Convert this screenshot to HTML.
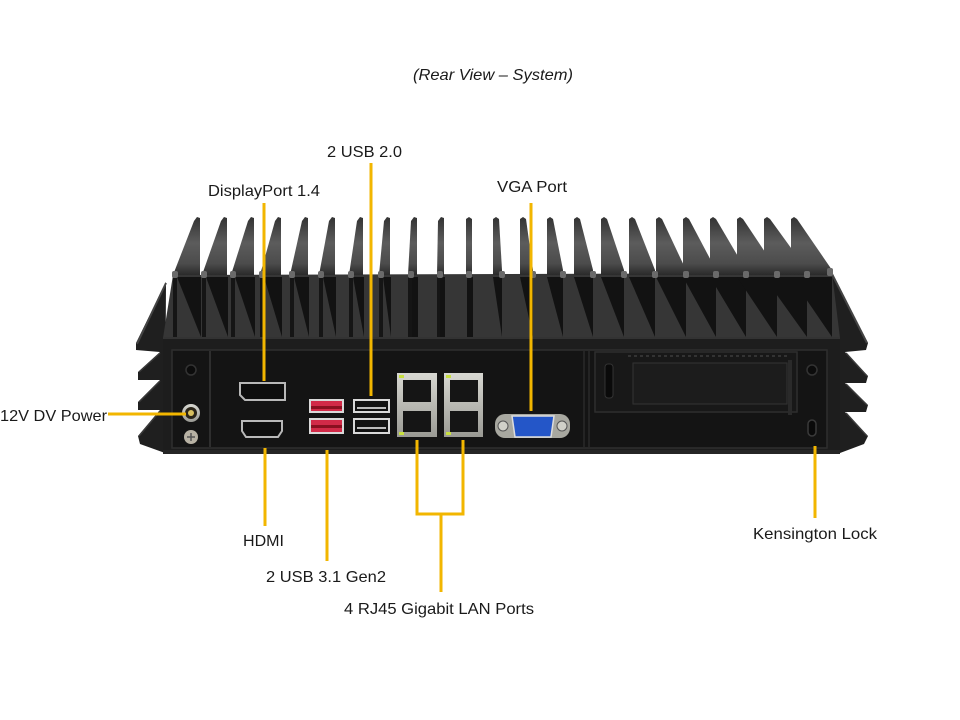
<!DOCTYPE html>
<html><head><meta charset="utf-8"><style>
html,body{margin:0;padding:0;background:#fff;}
svg{display:block;}
text{font-family:"Liberation Sans",Arial,sans-serif;font-size:16px;fill:#1a1a1a;}
</style></head><body>
<svg width="960" height="720" viewBox="0 0 960 720" xmlns="http://www.w3.org/2000/svg">
<defs>
<linearGradient id="fg" x1="0" y1="0" x2="0" y2="1">
<stop offset="0" stop-color="#333"/><stop offset="0.45" stop-color="#5c5c5c"/><stop offset="0.8" stop-color="#4c4c4c"/><stop offset="1" stop-color="#2a2a2a"/>
</linearGradient>
<linearGradient id="silver" x1="0" y1="0" x2="0" y2="1">
<stop offset="0" stop-color="#d8d8d2"/><stop offset="1" stop-color="#9a9a94"/>
</linearGradient>
</defs>
<rect width="960" height="720" fill="#fff"/>
<text x="413" y="80" font-style="italic" textLength="160" lengthAdjust="spacingAndGlyphs">(Rear View – System)</text>

<!-- side fins -->
<polygon points="166,282 136,343 136,350 160,352 138,372 138,380 160,380 138,402 138,410 160,410 138,436 140,444 165,453" fill="#1f1f1f"/>
<polyline points="166,283 137,344" stroke="#444" stroke-width="2" fill="none"/>
<polyline points="160,353 139,372" stroke="#3a3a3a" stroke-width="1.5" fill="none"/>
<polyline points="160,381 139,402" stroke="#3a3a3a" stroke-width="1.5" fill="none"/>
<polyline points="160,411 139,436" stroke="#3a3a3a" stroke-width="1.5" fill="none"/>
<polygon points="832,273 868,343 866,350 845,352 868,376 866,383 845,383 868,405 866,412 845,412 868,436 864,444 840,453" fill="#1f1f1f"/>
<polyline points="832,274 867,343" stroke="#444" stroke-width="2" fill="none"/>
<polyline points="846,353 867,376" stroke="#3a3a3a" stroke-width="1.5" fill="none"/>
<polyline points="846,384 867,405" stroke="#3a3a3a" stroke-width="1.5" fill="none"/>
<polyline points="846,413 867,436" stroke="#3a3a3a" stroke-width="1.5" fill="none"/>

<!-- lower fin band -->
<polygon points="173,275 832,273 840,338 163,338" fill="#363636"/>

<!-- left fins upper faces -->
<g fill="url(#fg)">
<polygon points="194,221 197,217 200,218 200,275 173,275"/>
<polygon points="221,221 224,217 227,218 227,275 202,275"/>
<polygon points="248,221 251,217 254,218 254,275 231,275"/>
<polygon points="275,221 278,217 281,218 281,275 260,275"/>
<polygon points="302,221 305,217 308,218 308,275 290,275"/>
<polygon points="329,221 332,217 335,218 335,275 319,275"/>
<polygon points="357,221 360,217 363,218 363,275 349,275"/>
<polygon points="384,221 387,217 390,218 390,275 379,275"/>
<polygon points="411,221 414,217 417,218 417,275 408,275"/>
<polygon points="438,221 441,217 444,218 444,275 437,275"/>
<!-- right fins -->
<polygon points="466,219 469,217 472,219 472,275 466,275"/>
<polygon points="493,219 496,217 499,219 502,270 502,275 493,275"/>
<polygon points="520,219 523,217 526,219 533,270 533,275 520,275"/>
<polygon points="547,219 550,217 553,219 563,270 563,275 547,275"/>
<polygon points="574,219 577,217 580,219 593,270 593,275 574,275"/>
<polygon points="601,219 604,217 607,219 624,270 624,275 601,275"/>
<polygon points="629,219 632,217 635,219 655,270 655,275 629,275"/>
<polygon points="656,219 659,217 662,219 686,270 686,275 656,275"/>
<polygon points="683,219 686,217 689,219 716,270 716,275 683,275"/>
<polygon points="710,219 713,217 716,219 746,270 746,275 710,275"/>
<polygon points="737,219 740,217 743,219 777,270 777,275 737,275"/>
<polygon points="764,219 767,217 770,219 807,270 807,275 764,275"/>
<polygon points="791,219 794,217 797,219 832,270 832,275 791,275"/>
</g>
<!-- lower dark triangles -->
<g fill="#121212">
<polygon points="177,277 201,277 201,337"/>
<polygon points="206,277 228,277 228,337"/>
<polygon points="235,277 255,277 255,337"/>
<polygon points="264,277 282,277 282,337"/>
<polygon points="294,277 309,277 309,337"/>
<polygon points="323,277 336,277 336,337"/>
<polygon points="353,277 364,277 364,337"/>
<polygon points="383,277 391,277 391,337"/>
<rect x="412" y="277" width="6" height="60"/>
<rect x="440" y="277" width="5" height="60"/>
<rect x="467" y="277" width="6" height="60"/>
<polygon points="493,277 502,277 502,337"/>
<polygon points="520,277 533,277 533,337"/>
<polygon points="547,277 563,277 563,337"/>
<polygon points="574,277 593,277 593,337"/>
<polygon points="601,277 624,277 624,337"/>
<polygon points="629,277 655,277 655,337"/>
<polygon points="656,277 686,277 686,337"/>
<polygon points="683,277 716,277 716,337"/>
<polygon points="710,277 746,277 746,337"/>
<polygon points="737,277 777,277 777,337"/>
<polygon points="764,277 807,277 807,337"/>
<polygon points="791,277 832,277 832,337"/>
</g>
<g fill="#151515">
<rect x="173" y="277" width="4" height="60"/><rect x="202" y="277" width="4" height="60"/><rect x="231" y="277" width="4" height="60"/><rect x="260" y="277" width="4" height="60"/><rect x="290" y="277" width="4" height="60"/><rect x="319" y="277" width="4" height="60"/><rect x="349" y="277" width="4" height="60"/><rect x="379" y="277" width="4" height="60"/><rect x="408" y="277" width="4" height="60"/><rect x="437" y="277" width="3" height="60"/>
</g>
<g fill="#6a6a6a">
<rect x="172" y="271" width="6" height="7" rx="2"/><rect x="201" y="271" width="6" height="7" rx="2"/><rect x="230" y="271" width="6" height="7" rx="2"/><rect x="259" y="271" width="6" height="7" rx="2"/><rect x="289" y="271" width="6" height="7" rx="2"/><rect x="318" y="271" width="6" height="7" rx="2"/><rect x="348" y="271" width="6" height="7" rx="2"/><rect x="378" y="271" width="6" height="7" rx="2"/><rect x="408" y="271" width="6" height="7" rx="2"/><rect x="437" y="271" width="6" height="7" rx="2"/><rect x="466" y="271" width="6" height="7" rx="2"/><rect x="499" y="271" width="6" height="7" rx="2"/><rect x="530" y="271" width="6" height="7" rx="2"/><rect x="560" y="271" width="6" height="7" rx="2"/><rect x="590" y="271" width="6" height="7" rx="2"/><rect x="621" y="271" width="6" height="7" rx="2"/><rect x="652" y="271" width="6" height="7" rx="2"/><rect x="683" y="271" width="6" height="7" rx="2"/><rect x="713" y="271" width="6" height="7" rx="2"/><rect x="743" y="271" width="6" height="7" rx="2"/><rect x="774" y="271" width="6" height="7" rx="2"/><rect x="804" y="271" width="6" height="7" rx="2"/><rect x="827" y="268" width="6" height="8" rx="2"/>
</g>

<!-- body -->
<rect x="163" y="337" width="677" height="117" fill="#1d1d1d"/>
<rect x="163" y="337" width="677" height="2" fill="#333"/>
<rect x="172" y="350" width="655" height="98" fill="#141414" stroke="#2e2e2e" stroke-width="1.5"/>
<line x1="210" y1="351" x2="210" y2="447" stroke="#2e2e2e" stroke-width="2"/>
<line x1="584" y1="351" x2="584" y2="447" stroke="#2a2a2a" stroke-width="1.5"/>
<line x1="589" y1="351" x2="589" y2="447" stroke="#2a2a2a" stroke-width="1.5"/>
<rect x="163" y="450" width="677" height="4" fill="#252525"/>

<!-- power section -->
<circle cx="191" cy="370" r="5" fill="#0c0c0c" stroke="#333" stroke-width="1.5"/>
<circle cx="191" cy="413" r="9" fill="url(#silver)"/>
<circle cx="191" cy="413" r="6" fill="#2a2418"/>
<circle cx="191" cy="413" r="3" fill="#d8c060"/>
<circle cx="191" cy="437" r="7" fill="#b8b2a4"/>
<path d="M187 437h8M191 433v8" stroke="#555" stroke-width="1.5"/>

<!-- DisplayPort -->
<path d="M240 383h45v17h-40l-5-5z" fill="#0e0e0e" stroke="#b8b8b8" stroke-width="2"/>
<!-- HDMI -->
<path d="M242 421h40v10l-4 6h-32l-4-6z" fill="#0e0e0e" stroke="#b8b8b8" stroke-width="2"/>

<!-- USB 3.1 red -->
<rect x="309" y="399" width="35" height="14" fill="#d9d9d9"/>
<rect x="311" y="401" width="31" height="10" fill="#d22a48"/>
<rect x="311" y="406" width="31" height="3" fill="#8a1020"/>
<rect x="309" y="418" width="35" height="16" fill="#d9d9d9"/>
<rect x="311" y="420" width="31" height="12" fill="#d22a48"/>
<rect x="311" y="425" width="31" height="3" fill="#8a1020"/>
<!-- USB 2.0 -->
<rect x="353" y="399" width="37" height="14" fill="#d9d9d9"/>
<rect x="355" y="401" width="33" height="10" fill="#111"/>
<rect x="357" y="407" width="29" height="2" fill="#bbb"/>
<rect x="353" y="418" width="37" height="16" fill="#d9d9d9"/>
<rect x="355" y="420" width="33" height="12" fill="#111"/>
<rect x="357" y="427" width="29" height="2" fill="#bbb"/>

<!-- LAN -->
<g>
<rect x="397" y="373" width="40" height="64" fill="url(#silver)"/>
<rect x="403" y="380" width="28" height="22" fill="#151515"/>
<rect x="403" y="411" width="28" height="21" fill="#151515"/>
<rect x="399" y="375" width="5" height="3" fill="#c8e040"/>
<rect x="399" y="432" width="5" height="3" fill="#c8e040"/>
<rect x="444" y="373" width="39" height="64" fill="url(#silver)"/>
<rect x="450" y="380" width="28" height="22" fill="#151515"/>
<rect x="450" y="411" width="28" height="21" fill="#151515"/>
<rect x="446" y="375" width="5" height="3" fill="#c8e040"/>
<rect x="446" y="432" width="5" height="3" fill="#c8e040"/>
</g>

<!-- VGA -->
<rect x="495" y="414" width="75" height="24" rx="10" fill="#a8a8a0"/>
<circle cx="503" cy="426" r="5" fill="#d0d0c8" stroke="#555" stroke-width="1"/>
<circle cx="562" cy="426" r="5" fill="#d0d0c8" stroke="#555" stroke-width="1"/>
<path d="M512 416h42l-3 21h-36z" fill="#2456c8" stroke="#ddd" stroke-width="1.5"/>

<!-- expansion slot -->
<rect x="595" y="352" width="202" height="60" fill="#181818" stroke="#2e2e2e" stroke-width="1.5"/>
<line x1="628" y1="356" x2="790" y2="356" stroke="#333" stroke-width="2" stroke-dasharray="3 3"/>
<rect x="633" y="363" width="154" height="41" fill="#1c1c1c" stroke="#333" stroke-width="1"/>
<rect x="605" y="364" width="8" height="34" rx="3" fill="#0a0a0a" stroke="#333" stroke-width="1"/>
<rect x="788" y="360" width="4" height="55" fill="#2a2a2a"/>
<circle cx="812" cy="370" r="5" fill="#0c0c0c" stroke="#333" stroke-width="1.5"/>
<rect x="808" y="420" width="8" height="16" rx="4" fill="#0a0a0a" stroke="#3a3a3a" stroke-width="1.5"/>

<!-- connectors -->
<g stroke="#f2b600" stroke-width="3" fill="none">
<line x1="108" y1="414" x2="186" y2="414"/>
<line x1="264" y1="203" x2="264" y2="381"/>
<line x1="371" y1="163" x2="371" y2="396"/>
<line x1="531" y1="203" x2="531" y2="411"/>
<line x1="265" y1="448" x2="265" y2="526"/>
<line x1="327" y1="450" x2="327" y2="561"/>
<polyline points="417,440 417,514 463,514 463,440"/>
<line x1="441" y1="514" x2="441" y2="592"/>
<line x1="815" y1="446" x2="815" y2="518"/>
</g>

<!-- labels -->
<text x="327" y="157" textLength="75" lengthAdjust="spacingAndGlyphs">2 USB 2.0</text>
<text x="208" y="196" textLength="112" lengthAdjust="spacingAndGlyphs">DisplayPort 1.4</text>
<text x="497" y="192" textLength="70" lengthAdjust="spacingAndGlyphs">VGA Port</text>
<text x="0" y="421" textLength="107" lengthAdjust="spacingAndGlyphs">12V DV Power</text>
<text x="243" y="546" textLength="41" lengthAdjust="spacingAndGlyphs">HDMI</text>
<text x="266" y="582" textLength="120" lengthAdjust="spacingAndGlyphs">2 USB 3.1 Gen2</text>
<text x="344" y="614" textLength="190" lengthAdjust="spacingAndGlyphs">4 RJ45 Gigabit LAN Ports</text>
<text x="753" y="539" textLength="124" lengthAdjust="spacingAndGlyphs">Kensington Lock</text>
</svg>
</body></html>
